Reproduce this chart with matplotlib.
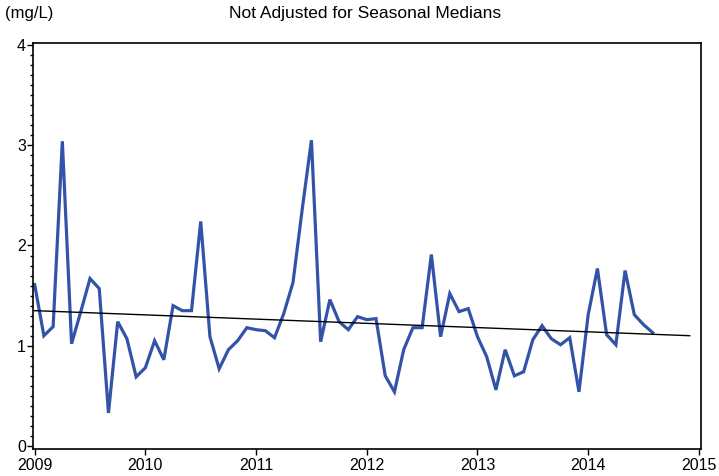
import matplotlib
matplotlib.use("Agg")
import matplotlib.pyplot as plt
from matplotlib.ticker import MultipleLocator

plt.rcParams['font.family'] = ['Liberation Sans', 'DejaVu Sans']

start_year = 2009
values = [
    1.61, 1.10, 1.19, 3.04, 1.02, 1.34, 1.67, 1.57, 0.33, 1.24, 1.07, 0.69,
    0.78, 1.05, 0.86, 1.40, 1.35, 1.35, 2.24, 1.09, 0.77, 0.96, 1.05, 1.18,
    1.16, 1.15, 1.08, 1.32, 1.63, 2.36, 3.05, 1.04, 1.46, 1.24, 1.16, 1.29,
    1.26, 1.27, 0.70, 0.54, 0.96, 1.18, 1.18, 1.91, 1.09, 1.52, 1.34, 1.37,
    1.09, 0.89, 0.56, 0.96, 0.70, 0.74, 1.06, 1.20, 1.07, 1.01, 1.08, 0.54,
    1.31, 1.77, 1.11, 1.01, 1.75, 1.31, 1.21, 1.13,
]
months = [start_year + i / 12 for i in range(len(values))]
trend_x = [2009.0, 2014.917]
trend_y = [1.35, 1.10]
year_ticks = [2009, 2010, 2011, 2012, 2013, 2014, 2015]
y_ticks = [0, 1, 2, 3, 4]

fig = plt.figure(figsize=(7.19, 4.76), dpi=100)
ax = fig.add_axes([0.0459, 0.0557, 0.9286, 0.854])

ax.plot(months, values, color='#3353a8', lw=2.3, solid_joinstyle='miter')
ax.plot(trend_x, trend_y, color='black', lw=1.0)

ax.set_xlim(2008.985, 2015.016)
ax.set_ylim(-0.035, 4.02)
ax.set_xticks(year_ticks)
ax.set_xticklabels([str(y) for y in year_ticks])
ax.set_yticks(y_ticks)
ax.set_yticklabels([str(y) for y in y_ticks])
ax.yaxis.set_minor_locator(MultipleLocator(0.1))
ax.tick_params(axis='both', which='major', direction='out', length=4, width=1.0,
               labelsize=11.5, pad=1)
ax.tick_params(axis='y', which='minor', direction='out', length=2.5, width=1.0)
ax.tick_params(axis='x', which='major', pad=2)
for s in ax.spines.values():
    s.set_linewidth(1.2)

fig.text(0.007, 0.971, '(mg/L)', fontsize=12, ha='left', va='center')
fig.text(0.508, 0.971, 'Not Adjusted for Seasonal Medians', fontsize=12.5,
         ha='center', va='center')

fig.savefig('out.png', dpi=100)
